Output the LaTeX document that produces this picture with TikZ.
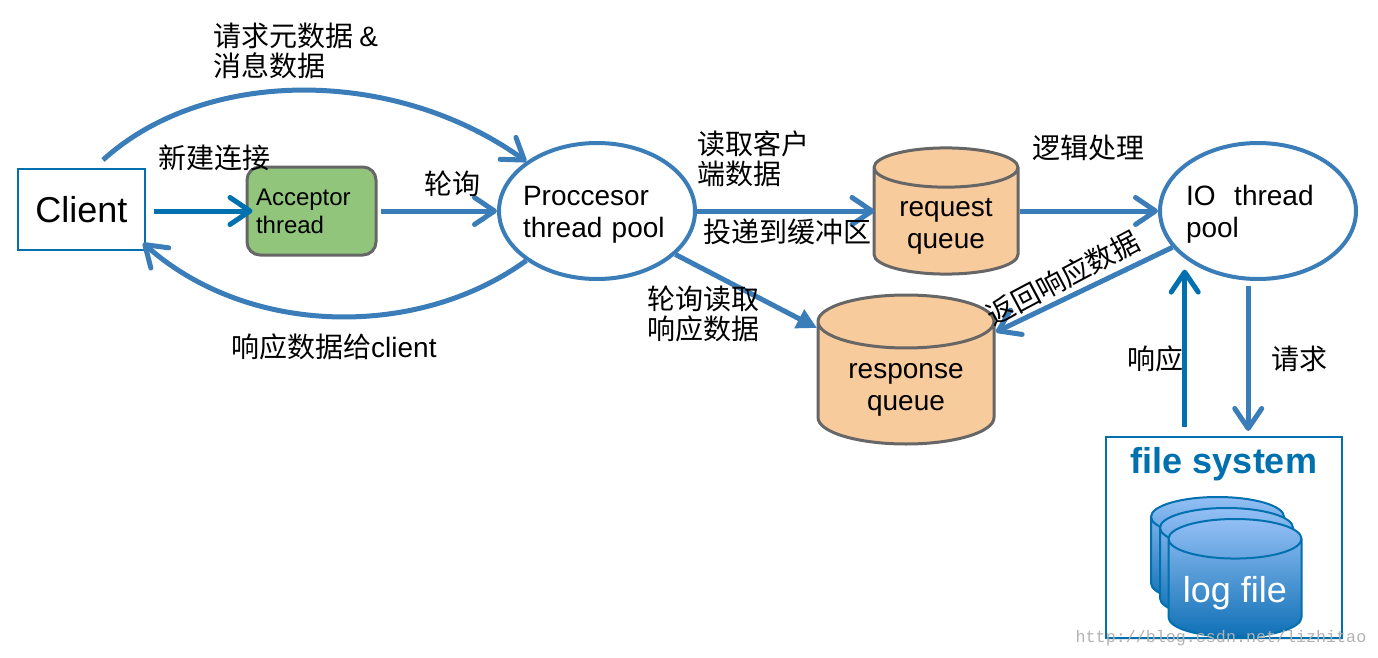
\documentclass[tikz,border=0pt]{standalone}
\usepackage{fontspec}
\usetikzlibrary{arrows.meta,shapes.geometric,shadows}
\setmainfont{Liberation Sans}
\setmonofont{Liberation Mono}
\newfontfamily\cjk{Noto Sans CJK SC}
\definecolor{flowblue}{HTML}{3A7DB8}
\definecolor{deepblue}{HTML}{0070AE}
\definecolor{queuefill}{HTML}{F8CB9C}
\definecolor{greenfill}{HTML}{92C57C}
\definecolor{disktop}{HTML}{93BFF5}
\definecolor{diskbottom}{HTML}{0F70B5}
\tikzset{
  softshadow/.style={drop shadow={opacity=0.2,shadow xshift=1pt,shadow yshift=-2pt}},
  flow/.style={draw=flowblue,line width=5pt,-{Straight Barb[length=20pt,width=27pt,line width=5pt,round]}},
  flowdark/.style={flow,draw=deepblue},
  caption/.style={inner sep=0pt,anchor=west,align=left,font=\cjk\fontsize{28}{30}\selectfont},
  pool/.style={ellipse,draw=flowblue,line width=4pt,fill=white,softshadow,minimum width=196pt,minimum height=136pt,
    inner ysep=0pt,align=left,font=\fontsize{28}{32}\selectfont},
  queue/.style={cylinder,shape border rotate=90,draw=black!60,line width=3pt,fill=queuefill,
    anchor=shape center,inner sep=0pt,align=center,font=\fontsize{28}{32}\selectfont},
  logdisk/.style={cylinder,shape border rotate=90,draw=deepblue,line width=2pt,top color=disktop,
    bottom color=diskbottom,anchor=shape center,inner sep=0pt,aspect=0.38,minimum width=133pt,minimum height=118pt,
    text=white,font=\fontsize{36}{40}\selectfont},
}
\begin{document}
\begin{tikzpicture}[x=1pt,y=-1pt]
  \useasboundingbox (0,0) rectangle (1378,658);

  % Boxes
  \node[draw=deepblue,line width=2pt,minimum width=127pt,minimum height=81pt,inner sep=0pt,
    font=\fontsize{36}{40}\selectfont] (client) at (81.5,209.5) {Client};
  \node[draw=black!60,line width=3pt,fill=greenfill,rounded corners=13pt,minimum height=88pt,
    text width=111pt,inner xsep=9pt,inner ysep=0pt,align=left,font=\fontsize{24}{28}\selectfont]
    (acceptor) at (311.5,211) {Acceptor\\thread};
  \node[pool,text width=148pt,inner xsep=-15pt] (proc) at (597,211) {\rule{0pt}{27pt}Proccesor\\thread pool};
  \node[pool,text width=144pt,inner xsep=-12pt] (io) at (1258,211) {\rule{0pt}{27pt}IO\ \ thread\\pool};

  % Queues
  \node[queue,aspect=0.42,minimum width=144pt,minimum height=122pt] (request) at (946,211) {\rule{0pt}{28pt}request\\queue};
  \node[queue,aspect=0.46,minimum width=176pt,minimum height=149pt] (response) at (906,369.5) {\rule{0pt}{27pt}response\\queue};

  % File system
  \node[draw=deepblue,line width=2pt,fill=white,softshadow,minimum width=236pt,minimum height=201pt,inner sep=0pt] (fs) at (1224,537.5) {};
  \node[inner sep=0pt,text=deepblue,font=\bfseries\fontsize{36}{40}\selectfont] (fstitle) at (1224,464) {file system};
  \node[logdisk,minimum height=106pt] (logback) at (1217.5,550) {\phantom{log file}};
  \node[logdisk,minimum height=110pt] (logmid) at (1226.5,563) {\phantom{log file}};
  \node[logdisk] (logfront) at (1235,578) {\rule{0pt}{36pt}log file};

  % Connectors
  \coordinate (clientout) at (103,160);
  \coordinate (clientin) at (143,243);
  \coordinate (responsein) at (817,328);
  \coordinate (responseback) at (996,332);
  \draw[flow] (clientout) .. controls (205,67) and (395,67) .. (proc.145);
  \draw[flow] (proc.215) .. controls (420,338) and (250,338) .. (clientin);
  \draw[flowdark,shorten <=8pt,shorten >=-7pt] (client.east |- acceptor.west) -- (acceptor.west);
  \draw[flow,shorten <=3pt] (acceptor.east) -- (proc.west);
  \draw[flow,shorten >=-2pt] (proc.east) -- (request.west |- proc.east);
  \draw[flow] (request.east |- io.west) -- (io.west);
  \draw[flow,-{Triangle[length=20pt,width=20pt]}] (proc.-29) -- (responsein);
  \draw[flow] (io.203) -- (responseback);
  \draw[flowdark,shorten <=9pt,shorten >=11pt] (io.213 |- fs.north) -- (io.213);
  \draw[flow,shorten <=5pt,shorten >=5pt] (io.262) -- (io.262 |- fs.north);

  % Labels
  \node[caption] (metalabel) at (213,51) {请求元数据 {\fontspec{Liberation Sans}\&}\\消息数据};
  \node[caption] (newlabel) at (158,158) {新建连接};
  \node[caption] (polllabel) at (424,184) {轮询};
  \node[caption] (backlabel) at (231,347) {响应数据给{\fontspec{Liberation Sans}client}};
  \node[caption] (readlabel) at (697,158.5) {读取客户\\端数据};
  \node[caption] (putlabel) at (703,232) {投递到缓冲区};
  \node[caption] (logiclabel) at (1032,148) {逻辑处理};
  \node[caption] (takelabel) at (647,314) {轮询读取\\响应数据};
  \node[caption,anchor=center,rotate=28] (returnlabel) at (1063,278) {返回响应数据};
  \node[caption] (upl) at (1127,359) {响应};
  \node[caption] (downl) at (1271,359) {请求};

  % Watermark
  \node[inner sep=0pt,text=black!30,font=\ttfamily\fontsize{16.7}{18}\selectfont] (mark) at (1221,638) {http://blog.csdn.net/lizhitao};
\end{tikzpicture}
\end{document}
